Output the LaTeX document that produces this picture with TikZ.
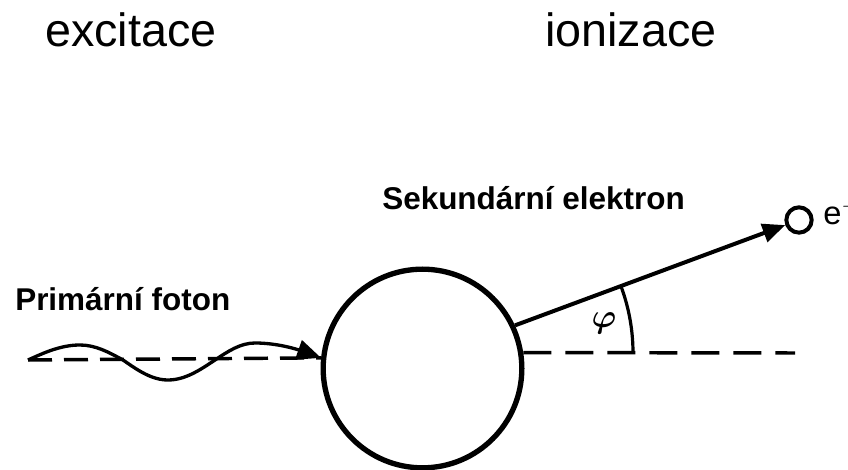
\documentclass[tikz,border=0pt]{standalone}
\usepackage{fontspec}
\setmainfont{Liberation Sans}
\usepackage{tikz}
\usetikzlibrary{arrows.meta,positioning}
\tikzset{
  photon/.style={-{Triangle[length=18pt,width=15pt]},line width=2.5pt},
  axis/.style={line width=2.6pt,dash pattern=on 18pt off 9pt},
  faraxis/.style={line width=2.6pt,dash pattern=on 21pt off 10.5pt},
  emission/.style={-{Triangle[length=17pt,width=14pt]},line width=3pt},
  atom/.style={circle,draw,line width=4pt,minimum size=149pt,inner sep=0pt},
  electron/.style={circle,draw,line width=3pt,minimum size=19pt,inner sep=0pt},
  heading/.style={anchor=base west,inner sep=0pt,font=\fontsize{35}{40}\selectfont},
  caption/.style={anchor=base west,inner sep=0pt,font=\fontsize{23.6}{28}\selectfont\bfseries}
}

\begin{document}
\begin{tikzpicture}[x=0.75pt,y=0.75pt]
    \path[clip] (0,0) rectangle (848,470);
    \node[heading] (exc) at (45,423) {excitace};
    \node[heading] (ion) at (545,423) {ionizace};
    \node[caption] (prim) at (15,159) {Primární foton};
    \node[caption] (sek) at (382,260) {Sekundární elektron};

    \node[atom] (atom) at (422.5,101.5) {};
    \node[electron] (el) at (799,250) {};
    \node[anchor=base west,inner sep=0pt,font=\fontsize{24.5}{28}\selectfont] (eminus) at (823,245) {e$^{-}$};

    \coordinate (wstart) at (28,110);
    \coordinate (axisend) at (795,117);
    \draw[axis] (wstart) -- (atom.174);
    \draw[photon] (wstart) sin (80,125) cos (123,110) sin (168,90) cos (215,110) sin (255,127) cos (atom.174);
    \draw[faraxis] (atom.9) -- (axisend);
    \draw[emission] (atom.25) -- (el);

    \draw[line width=2.4pt] (633,117) arc[start angle=0,end angle=20.4,radius=143.6pt];
    \node[font=\fontsize{32}{34}\selectfont\boldmath] (phi) at (604,147) {$\varphi$};
  \end{tikzpicture}
\end{document}
